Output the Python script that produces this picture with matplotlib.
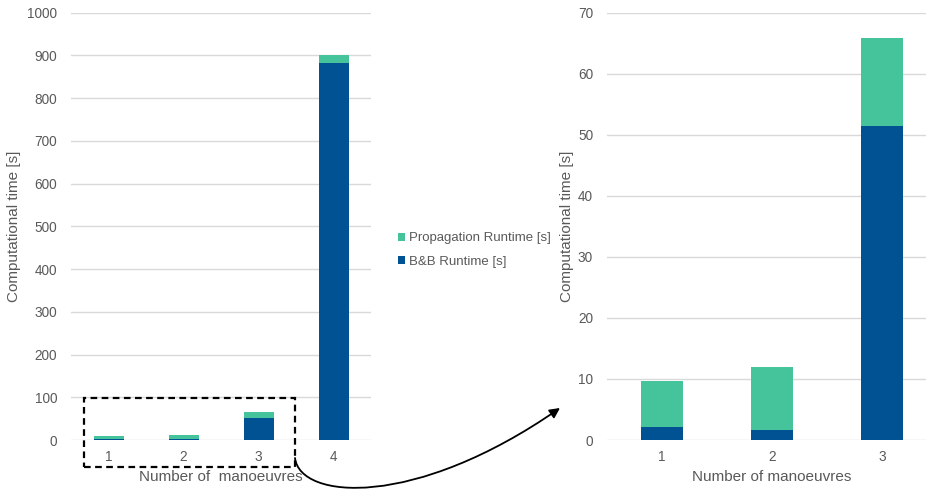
import matplotlib
matplotlib.use("Agg")
import matplotlib.pyplot as plt
from matplotlib.patches import Rectangle, FancyArrowPatch
from matplotlib.path import Path
import numpy as np

categories_all = ["1", "2", "3", "4"]
bb_runtime_all = [2.1, 1.7, 51.5, 882.0]
prop_runtime_all = [7.6, 10.2, 14.4, 18.0]

categories_zoom = ["1", "2", "3"]
bb_runtime_zoom = [2.1, 1.7, 51.5]
prop_runtime_zoom = [7.6, 10.2, 14.4]

GREEN = "#45C49B"
BLUE = "#005293"
GRID = "#D9D9D9"
TXT = "#595959"

plt.rcParams["font.family"] = ["Liberation Sans", "DejaVu Sans"]

W, H = 926, 491
fig = plt.figure(figsize=(W / 100, H / 100), dpi=100)

TFS = 9.8
LFS = 11


def style(ax, ymax, step, ylabel, xlabel):
    ax.set_ylim(0, ymax)
    ax.set_yticks(np.arange(0, ymax + step / 2, step))
    for s in ax.spines.values():
        s.set_visible(False)
    ax.yaxis.grid(True, color=GRID, linewidth=1)
    ax.set_axisbelow(True)
    ax.tick_params(axis="both", length=0, labelsize=TFS, colors=TXT)
    ax.tick_params(axis="y", pad=10)
    ax.tick_params(axis="x", pad=7.5)
    ax.set_ylabel(ylabel, fontsize=LFS, color=TXT)
    ax.set_xlabel(xlabel, fontsize=LFS, color=TXT)


# Left chart
ax1 = fig.add_axes([71 / W, (H - 440) / H, 300 / W, 427.3 / H])
x1 = np.arange(len(categories_all))
ax1.bar(x1, bb_runtime_all, width=0.4, color=BLUE, label="B&B Runtime [s]", zorder=2)
ax1.bar(x1, prop_runtime_all, width=0.4, bottom=bb_runtime_all, color=GREEN,
        label="Propagation Runtime [s]", zorder=2)
ax1.set_xlim(-0.5, len(categories_all) - 0.5)
ax1.set_xticks(x1)
ax1.set_xticklabels(categories_all)
style(ax1, 1000, 100, "Computational time [s]", "Number of  manoeuvres")
ax1.xaxis.labelpad = 4
ax1.yaxis.labelpad = 4.5

# Right chart
ax2 = fig.add_axes([607 / W, (H - 440) / H, 330 / W, 427.3 / H])
x2 = np.arange(len(categories_zoom))
ax2.bar(x2, bb_runtime_zoom, width=0.39, color=BLUE, zorder=2)
ax2.bar(x2, prop_runtime_zoom, width=0.39, bottom=bb_runtime_zoom, color=GREEN, zorder=2)
ax2.set_xlim(-0.5, len(categories_zoom) - 0.5)
ax2.set_xticks(x2)
ax2.set_xticklabels(categories_zoom)
style(ax2, 70, 10, "Computational time [s]", "Number of manoeuvres")
ax2.xaxis.labelpad = 4
ax2.yaxis.labelpad = 3

# Legend
h, l = ax1.get_legend_handles_labels()
leg = fig.legend([h[1], h[0]], [l[1], l[0]], loc="center left",
                 bbox_to_anchor=(386 / W, 1 - 250 / H), frameon=False,
                 fontsize=9.5, handlelength=0.55, handleheight=0.55,
                 handletextpad=0.3, labelspacing=0.85, labelcolor=TXT)

# Dashed zoom box
rect = Rectangle((84 / W, 1 - 467 / H), (295 - 84) / W, (467 - 398) / H,
                 transform=fig.transFigure, fill=False, edgecolor="black",
                 linestyle=(0, (3, 2)), linewidth=1.6, zorder=5)
fig.add_artist(rect)

# Curved arrow (cubic bezier, figure pixel coords converted to fractions)
pts_px = [(295, 458), (300, 500), (415, 509), (560, 408)]
verts = [(px / W, 1 - py / H) for px, py in pts_px]
path = Path(verts, [Path.MOVETO, Path.CURVE4, Path.CURVE4, Path.CURVE4])
arrow = FancyArrowPatch(path=path, transform=fig.transFigure,
                        arrowstyle="-|>,head_length=6,head_width=3",
                        color="black", linewidth=1.3, zorder=5)
fig.add_artist(arrow)

fig.savefig("out.png", dpi=100)
